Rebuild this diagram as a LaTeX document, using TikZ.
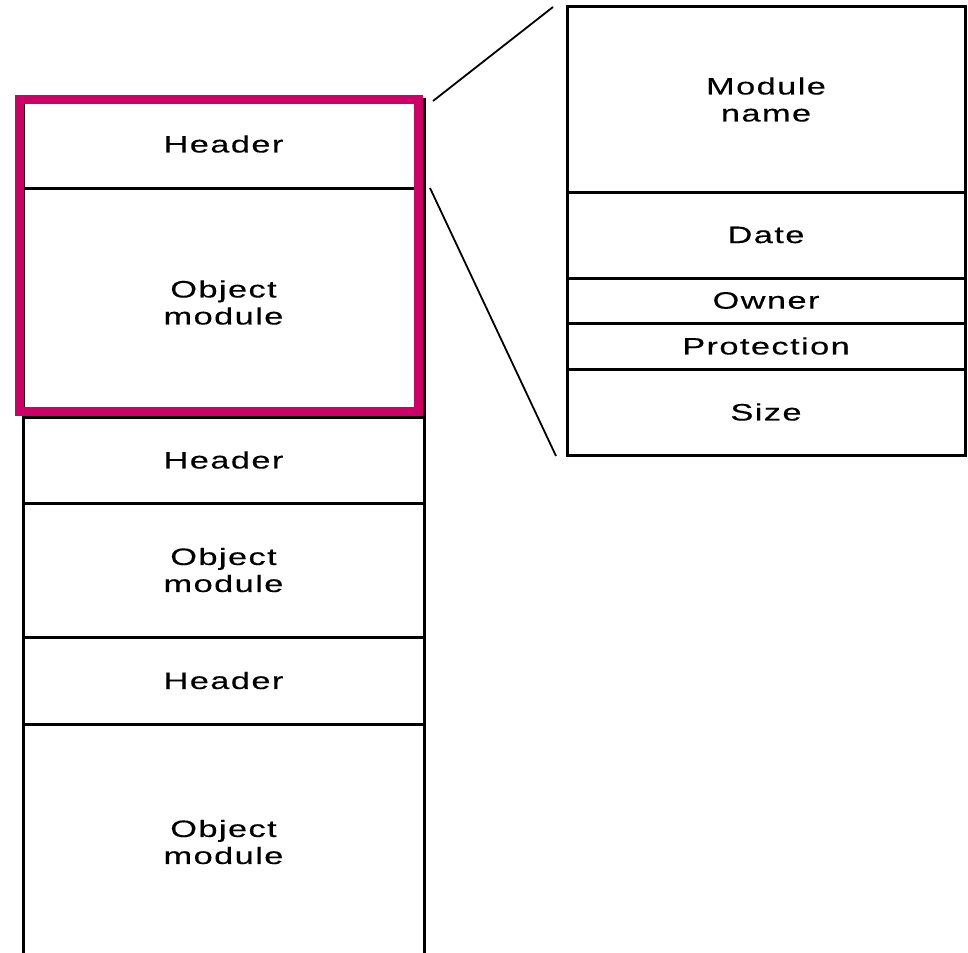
\documentclass[tikz,border=0pt]{standalone}
\usepackage{fontspec}
\setmainfont[FakeStretch=1.45,LetterSpace=6,FakeBold=0.3]{Liberation Sans}
\definecolor{hilite}{RGB}{204,0,102}

\begin{document}
\begin{tikzpicture}[x=1pt,y=-1pt,
  rowtext/.style={inner sep=0pt,outer sep=0pt,align=center,
    font=\fontsize{23.7}{27}\selectfont},
  leftcell/.style={rowtext,draw=black,line width=3pt,minimum width=401pt},
  rightcell/.style={rowtext,draw=black,line width=3pt,minimum width=398pt},
  zoomline/.style={draw=black,line width=1.8pt},
  frame/.style={draw=hilite,line width=9pt}]
\useasboundingbox (0,0) rectangle (968,952);

% file layout: alternating headers and object modules
\node[leftcell,minimum height=88pt]  (h1) at (223.5,144)   {Header};
\node[leftcell,minimum height=229pt] (o1) at (223.5,302.5) {Object\\module};
\node[leftcell,minimum height=86pt]  (h2) at (223.5,460)   {Header};
\node[leftcell,minimum height=134pt] (o2) at (223.5,570)   {Object\\module};
\node[leftcell,minimum height=87pt]  (h3) at (223.5,680.5) {Header};
\node[rowtext,minimum width=401pt,minimum height=236pt] (o3) at (223.5,842) {Object\\module};
\draw[line width=3pt] (o3.south west) -- (o3.north west) -- (o3.north east) -- (o3.south east);

% highlight around the first header and module
\draw[frame] (19,99.5) rectangle (418.5,411.5);

% expanded header fields
\node[rightcell,minimum height=185pt] (mn) at (766,99.5) {Module\\name};
\node[rightcell,minimum height=86pt]  (dt) at (766,235)  {Date};
\node[rightcell,minimum height=45pt]  (ow) at (766,300.5) {Owner};
\node[rightcell,minimum height=46pt]  (pr) at (766,346)  {Protection};
\node[rightcell,minimum height=86pt]  (sz) at (766,412)  {Size};

% lines linking the header to its expansion
\coordinate (hTop) at (433,101);
\coordinate (hBot) at (430,188);
\coordinate (eTop) at (553,7);
\coordinate (eBot) at (556,456);
\draw[zoomline] (hTop) -- (eTop);
\draw[zoomline] (hBot) -- (eBot);
\end{tikzpicture}
\end{document}
